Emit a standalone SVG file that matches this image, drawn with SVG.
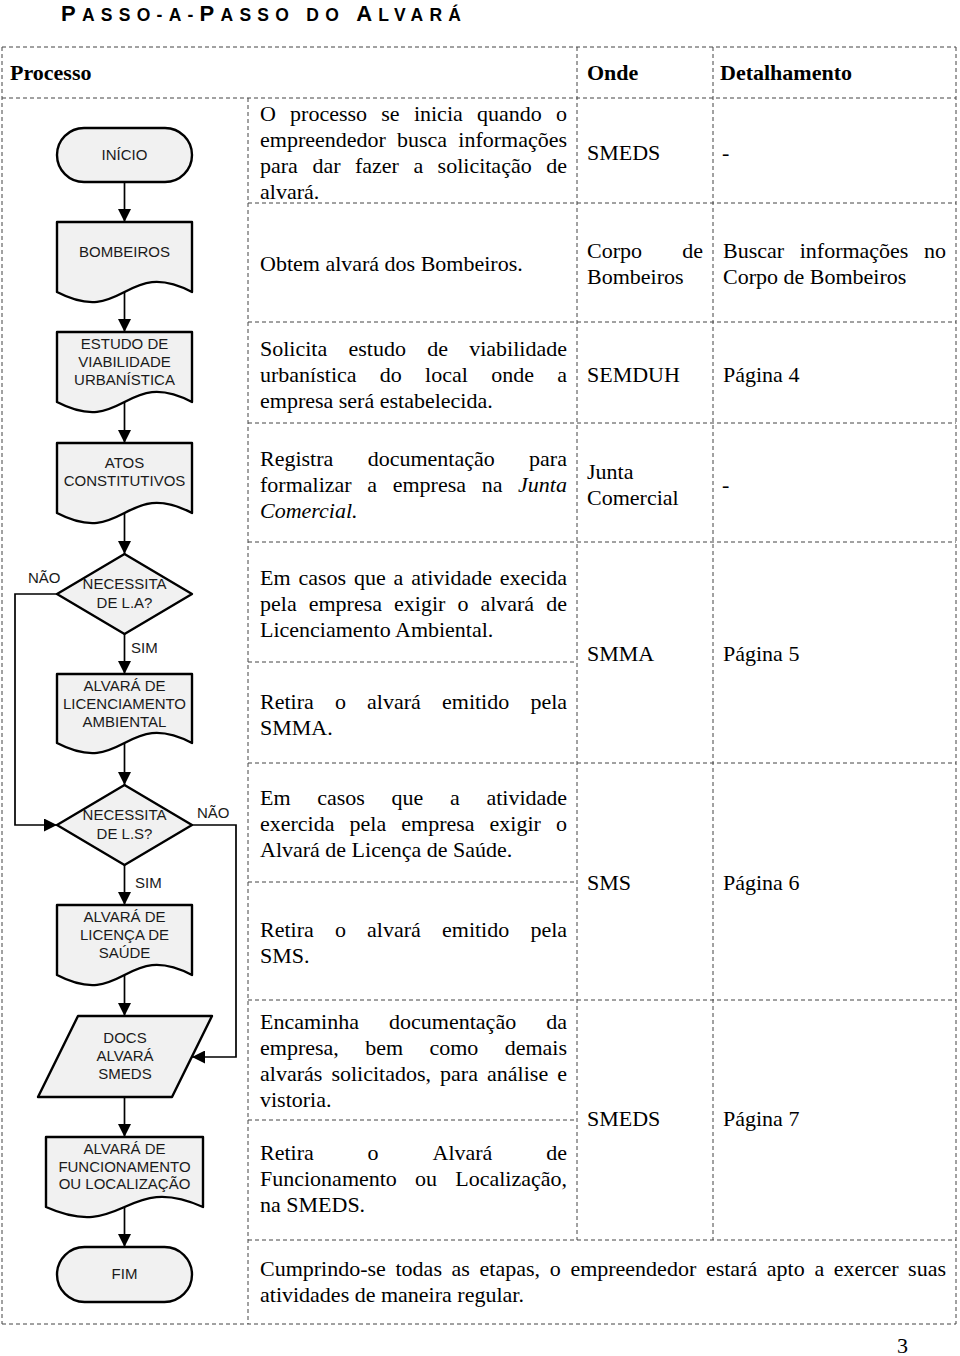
<svg xmlns="http://www.w3.org/2000/svg" width="960" height="1356" viewBox="0 0 960 1356">
<defs>
<style>
.t{font-family:"Liberation Serif","Times New Roman",serif;font-size:22px;fill:#000}
.b{font-weight:bold}
.i{font-style:italic}
.n{font-family:"Liberation Sans",Arial,sans-serif;font-size:15px;fill:#1a1a1a;text-anchor:middle}
.lb{font-family:"Liberation Sans",Arial,sans-serif;font-size:15px;fill:#1a1a1a}
.shape{fill:#f1f1f1;stroke:#000;stroke-width:2.4;stroke-linejoin:round}
.grid line{stroke:#444;stroke-width:1;stroke-dasharray:4 3}
.conn{stroke:#000;stroke-width:1.7;fill:none;marker-end:url(#ah)}
</style>
<marker id="ah" markerUnits="userSpaceOnUse" markerWidth="14" markerHeight="13" viewBox="0 0 14 13" refX="13" refY="6.5" orient="auto">
<path d="M0,0 L13,6.5 L0,13 z" fill="#000"/>
</marker>
</defs>
<rect width="960" height="1356" fill="#fff"/>

<text x="61" y="21" font-family="Liberation Sans, Arial, sans-serif" font-weight="bold" fill="#000" textLength="400" lengthAdjust="spacing"><tspan font-size="22">P</tspan><tspan font-size="17.5">ASSO-A-</tspan><tspan font-size="22">P</tspan><tspan font-size="17.5">ASSO DO </tspan><tspan font-size="22">A</tspan><tspan font-size="17.5">LVARÁ</tspan></text>

<g id="table" class="grid">
<line x1="2" y1="47" x2="956" y2="47"/>
<line x1="2" y1="98" x2="956" y2="98"/>
<line x1="248" y1="203" x2="956" y2="203"/>
<line x1="248" y1="322" x2="956" y2="322"/>
<line x1="248" y1="423" x2="956" y2="423"/>
<line x1="248" y1="542" x2="956" y2="542"/>
<line x1="248" y1="662" x2="577" y2="662"/>
<line x1="248" y1="763" x2="956" y2="763"/>
<line x1="248" y1="882" x2="577" y2="882"/>
<line x1="248" y1="1000" x2="956" y2="1000"/>
<line x1="248" y1="1120" x2="577" y2="1120"/>
<line x1="248" y1="1240" x2="956" y2="1240"/>
<line x1="2" y1="1324" x2="956" y2="1324"/>
<line x1="2" y1="47" x2="2" y2="1324"/>
<line x1="248" y1="98" x2="248" y2="1324"/>
<line x1="577" y1="47" x2="577" y2="1240"/>
<line x1="713" y1="47" x2="713" y2="1240"/>
<line x1="956" y1="47" x2="956" y2="1324"/>
</g>

<g id="header" class="t b">
<text x="10" y="80">Processo</text>
<text x="587" y="80">Onde</text>
<text x="720" y="80">Detalhamento</text>
</g>

<g id="texts" class="t">
<text y="121"><tspan x="260">O</tspan><tspan x="290.1">processo</tspan><tspan x="381.3">se</tspan><tspan x="413.9">inicia</tspan><tspan x="477">quando</tspan><tspan x="556">o</tspan></text>
<text y="147"><tspan x="260">empreendedor</tspan><tspan x="397">busca</tspan><tspan x="458.3">informações</tspan></text>
<text y="173"><tspan x="260">para</tspan><tspan x="312.4">dar</tspan><tspan x="354.9">fazer</tspan><tspan x="413.4">a</tspan><tspan x="437.6">solicitação</tspan><tspan x="546.2">de</tspan></text>
<text x="260" y="199">alvará.</text>
<text x="587" y="160">SMEDS</text>
<text x="722" y="160">-</text>

<text x="260" y="271">Obtem alvará dos Bombeiros.</text>
<text y="258"><tspan x="587">Corpo</tspan><tspan x="682.2">de</tspan></text>
<text x="587" y="284">Bombeiros</text>
<text y="258"><tspan x="723">Buscar</tspan><tspan x="799.7">informações</tspan><tspan x="924">no</tspan></text>
<text x="723" y="284">Corpo de Bombeiros</text>

<text y="356"><tspan x="260">Solicita</tspan><tspan x="348.5">estudo</tspan><tspan x="427.2">de</tspan><tspan x="469.2">viabilidade</tspan></text>
<text y="382"><tspan x="260">urbanística</tspan><tspan x="379.8">do</tspan><tspan x="425.1">local</tspan><tspan x="491.2">onde</tspan><tspan x="557.2">a</tspan></text>
<text x="260" y="408">empresa será estabelecida.</text>
<text x="587" y="382">SEMDUH</text>
<text x="723" y="382">Página 4</text>

<text y="466"><tspan x="260">Registra</tspan><tspan x="367.7">documentação</tspan><tspan x="529.1">para</tspan></text>
<text y="492"><tspan x="260">formalizar</tspan><tspan x="367.3">a</tspan><tspan x="392.7">empresa</tspan><tspan x="481.7">na</tspan><tspan x="518.1" class="i">Junta</tspan></text>
<text x="260" y="518" class="i">Comercial.</text>
<text x="587" y="479">Junta</text>
<text x="587" y="505">Comercial</text>
<text x="722" y="492">-</text>

<text y="585"><tspan x="260">Em</tspan><tspan x="298.4">casos</tspan><tspan x="354">que</tspan><tspan x="393.6">a</tspan><tspan x="411.3">atividade</tspan><tspan x="499.8">execida</tspan></text>
<text y="611"><tspan x="260">pela</tspan><tspan x="308.7">empresa</tspan><tspan x="394">exigir</tspan><tspan x="457.4">o</tspan><tspan x="480.4">alvará</tspan><tspan x="546.2">de</tspan></text>
<text x="260" y="637">Licenciamento Ambiental.</text>
<text y="709"><tspan x="260">Retira</tspan><tspan x="334.9">o</tspan><tspan x="367.1">alvará</tspan><tspan x="442">emitido</tspan><tspan x="530.4">pela</tspan></text>
<text x="260" y="735">SMMA.</text>
<text x="587" y="661">SMMA</text>
<text x="723" y="661">Página 5</text>

<text y="805"><tspan x="260">Em</tspan><tspan x="317.2">casos</tspan><tspan x="391.5">que</tspan><tspan x="449.9">a</tspan><tspan x="486.4">atividade</tspan></text>
<text y="831"><tspan x="260">exercida</tspan><tspan x="349.6">pela</tspan><tspan x="401.3">empresa</tspan><tspan x="489.6">exigir</tspan><tspan x="556">o</tspan></text>
<text x="260" y="857">Alvará de Licença de Saúde.</text>
<text y="937"><tspan x="260">Retira</tspan><tspan x="334.9">o</tspan><tspan x="367.1">alvará</tspan><tspan x="442">emitido</tspan><tspan x="530.4">pela</tspan></text>
<text x="260" y="963">SMS.</text>
<text x="587" y="890">SMS</text>
<text x="723" y="890">Página 6</text>

<text y="1029"><tspan x="260">Encaminha</tspan><tspan x="389.1">documentação</tspan><tspan x="546.2">da</tspan></text>
<text y="1055"><tspan x="260">empresa,</tspan><tspan x="365.2">bem</tspan><tspan x="429.4">como</tspan><tspan x="504.7">demais</tspan></text>
<text y="1081"><tspan x="260">alvarás</tspan><tspan x="331.4">solicitados,</tspan><tspan x="440.1">para</tspan><tspan x="487.1">análise</tspan><tspan x="557.2">e</tspan></text>
<text x="260" y="1107">vistoria.</text>
<text y="1160"><tspan x="260">Retira</tspan><tspan x="367.6">o</tspan><tspan x="432.5">Alvará</tspan><tspan x="546.2">de</tspan></text>
<text y="1186"><tspan x="260">Funcionamento</tspan><tspan x="415.1">ou</tspan><tspan x="455.2">Localização,</tspan></text>
<text x="260" y="1212">na SMEDS.</text>
<text x="587" y="1126">SMEDS</text>
<text x="723" y="1126">Página 7</text>

<text y="1276"><tspan x="260">Cumprindo-se</tspan><tspan x="395.5">todas</tspan><tspan x="451.6">as</tspan><tspan x="479.6">etapas,</tspan><tspan x="549.7">o</tspan><tspan x="570.4">empreendedor</tspan><tspan x="705.9">estará</tspan><tspan x="766.8">apto</tspan><tspan x="814.4">a</tspan><tspan x="833.8">exercer</tspan><tspan x="908.1">suas</tspan></text>
<text x="260" y="1302">atividades de maneira regular.</text>

<text x="897" y="1353">3</text>
</g>

<g id="connectors">
<path class="conn" d="M124.5,182 V222"/>
<path class="conn" d="M124.5,292 V332"/>
<path class="conn" d="M124.5,402 V443"/>
<path class="conn" d="M124.5,513 V554"/>
<path class="conn" d="M124.5,634 V674"/>
<path class="conn" d="M124.5,743 V785"/>
<path class="conn" d="M57,594 H15 V825 H57"/>
<path class="conn" d="M124.5,865 V905"/>
<path class="conn" d="M124.5,975 V1016"/>
<path class="conn" d="M192,825 H236 V1057 H192"/>
<path class="conn" d="M124.5,1097 V1137"/>
<path class="conn" d="M124.5,1207 V1247"/>
<text class="lb" x="28" y="583">NÃO</text>
<text class="lb" x="131" y="653">SIM</text>
<text class="lb" x="197" y="818">NÃO</text>
<text class="lb" x="135" y="888">SIM</text>
</g>

<g id="inicio">
<rect class="shape" x="57" y="128" width="135" height="54" rx="27"/>
<text class="n" x="124.5" y="160">INÍCIO</text>
</g>

<g id="bombeiros">
<path class="shape" d="M57,222 H192 V292 C124.5,257 124.5,327 57,292 Z"/>
<text class="n" x="124.5" y="257">BOMBEIROS</text>
</g>

<g id="estudo">
<path class="shape" d="M57,332 H192 V402 C124.5,367 124.5,437 57,402 Z"/>
<text class="n" x="124.5" y="349">ESTUDO DE</text>
<text class="n" x="124.5" y="367">VIABILIDADE</text>
<text class="n" x="124.5" y="385">URBANÍSTICA</text>
</g>

<g id="atos">
<path class="shape" d="M57,443 H192 V513 C124.5,478 124.5,548 57,513 Z"/>
<text class="n" x="124.5" y="468">ATOS</text>
<text class="n" x="124.5" y="486">CONSTITUTIVOS</text>
</g>

<g id="dec-la">
<path class="shape" d="M124.5,554 L192,594 L124.5,634 L57,594 Z"/>
<text class="n" x="124.5" y="589">NECESSITA</text>
<text class="n" x="124.5" y="608">DE L.A?</text>
</g>

<g id="alvara-la">
<path class="shape" d="M57,674 H192 V743 C124.5,708 124.5,778 57,743 Z"/>
<text class="n" x="124.5" y="691">ALVARÁ DE</text>
<text class="n" x="124.5" y="709">LICENCIAMENTO</text>
<text class="n" x="124.5" y="727">AMBIENTAL</text>
</g>

<g id="dec-ls">
<path class="shape" d="M124.5,785 L192,825 L124.5,865 L57,825 Z"/>
<text class="n" x="124.5" y="820">NECESSITA</text>
<text class="n" x="124.5" y="839">DE L.S?</text>
</g>

<g id="alvara-ls">
<path class="shape" d="M57,905 H192 V975 C124.5,940 124.5,1010 57,975 Z"/>
<text class="n" x="124.5" y="922">ALVARÁ DE</text>
<text class="n" x="124.5" y="940">LICENÇA DE</text>
<text class="n" x="124.5" y="958">SAÚDE</text>
</g>

<g id="docs">
<path class="shape" d="M78,1016 L212,1016 L172,1097 L38,1097 Z"/>
<text class="n" x="125" y="1043">DOCS</text>
<text class="n" x="125" y="1061">ALVARÁ</text>
<text class="n" x="125" y="1079">SMEDS</text>
</g>

<g id="alvara-func">
<path class="shape" d="M46,1137 H203 V1207 C124.5,1172 124.5,1242 46,1207 Z"/>
<text class="n" x="124.5" y="1154">ALVARÁ DE</text>
<text class="n" x="124.5" y="1172">FUNCIONAMENTO</text>
<text class="n" x="124.5" y="1189">OU LOCALIZAÇÃO</text>
</g>

<g id="fim">
<rect class="shape" x="57" y="1247" width="135" height="55" rx="27.5"/>
<text class="n" x="124.5" y="1279">FIM</text>
</g>
</svg>
